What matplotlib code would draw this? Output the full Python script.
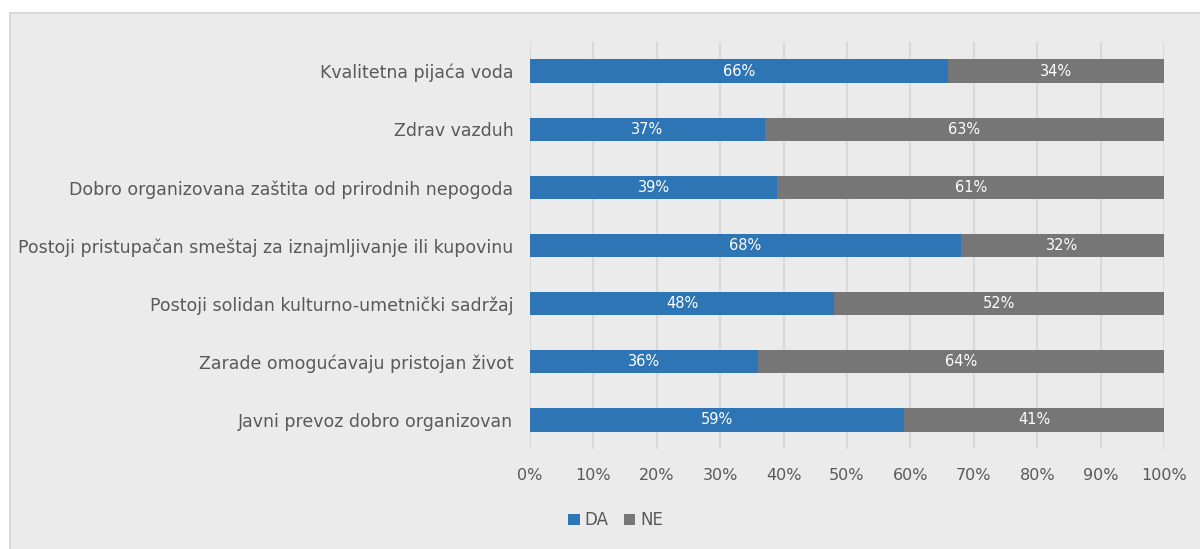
import matplotlib.pyplot as plt
from matplotlib.patches import Rectangle

categories = [
    "Kvalitetna pijaća voda",
    "Zdrav vazduh",
    "Dobro organizovana zaštita od prirodnih nepogoda",
    "Postoji pristupačan smeštaj za iznajmljivanje ili kupovinu",
    "Postoji solidan kulturno-umetnički sadržaj",
    "Zarade omogućavaju pristojan život",
    "Javni prevoz dobro organizovan",
]
da = [66, 37, 39, 68, 48, 36, 59]
ne = [34, 63, 61, 32, 52, 64, 41]
ticks = [0, 10, 20, 30, 40, 50, 60, 70, 80, 90, 100]

blue = "#2e75b6"
grey = "#767676"
text_col = "#595959"
bg = "#ebebeb"

fig = plt.figure(figsize=(12, 5.49), dpi=100)
fig.patch.set_facecolor("white")
panel = Rectangle((10 / 1200, -0.01), 1.0, 0.9763 + 0.01, transform=fig.transFigure,
                  facecolor=bg, edgecolor="#d9d9d9", linewidth=1.5, zorder=-10)
fig.patches.append(panel)

ax = fig.add_axes([530 / 1200, 1 - 449 / 549, (1164 - 530) / 1200, (449 - 42) / 549])
ax.set_facecolor("none")
ax.set_zorder(1)

y = list(range(len(categories)))
b1 = ax.barh(y, da, height=0.4, color=blue, label="DA", zorder=3)
b2 = ax.barh(y, ne, left=da, height=0.4, color=grey, label="NE", zorder=3)

for bars in (b1, b2):
    for r in bars:
        ax.text(r.get_x() + r.get_width() / 2, r.get_y() + r.get_height() / 2,
                f"{int(round(r.get_width()))}%", ha="center", va="center",
                color="white", fontsize=10.5, zorder=4)

ax.set_xlim(0, 100)
ax.set_ylim(len(categories) - 0.5, -0.5)
ax.set_xticks(ticks)
ax.set_xticklabels([f"{t}%" for t in ticks], color=text_col, fontsize=11.5)
ax.set_yticks(y)
ax.set_yticklabels(categories, color=text_col, fontsize=12.5)
ax.tick_params(length=0, pad=14)
ax.tick_params(axis="y", pad=12)
ax.grid(axis="x", color="#d9d9d9", linewidth=1.5, zorder=0)
for s in ax.spines.values():
    s.set_visible(False)

fig.legend(handles=[b1, b2], labels=["DA", "NE"], loc="center", bbox_to_anchor=(0.513, 0.052),
           ncol=2, frameon=False, fontsize=12, labelcolor=text_col,
           handlelength=0.7, handleheight=0.7, handletextpad=0.3, columnspacing=0.9)

fig.savefig("out.png", dpi=100, facecolor=fig.get_facecolor())
